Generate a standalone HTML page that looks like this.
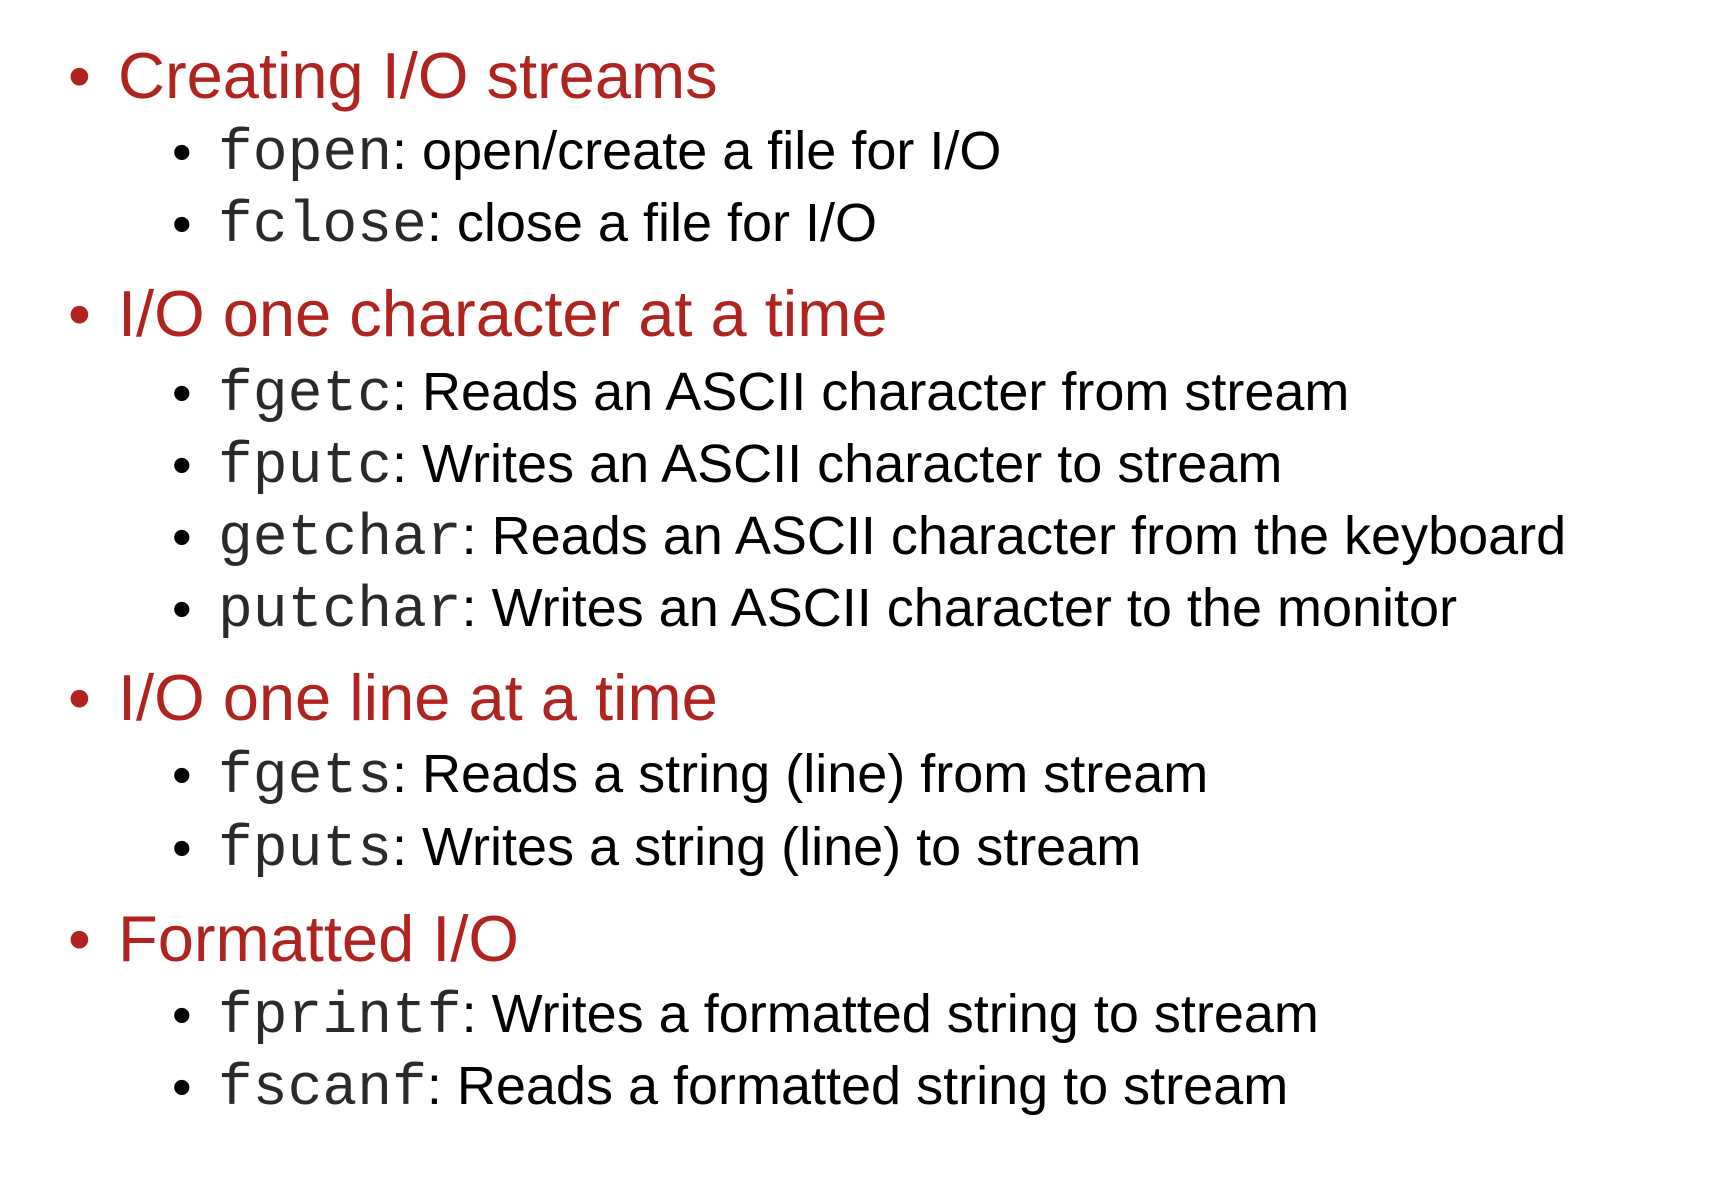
<!DOCTYPE html>
<html><head><meta charset="utf-8"><style>
html,body{margin:0;padding:0;background:#fff;width:1718px;height:1188px;overflow:hidden}
.l{position:absolute;line-height:1;white-space:nowrap;font-family:"Liberation Sans",sans-serif}
.h{font-size:65px;color:#b0231f}
.s{font-size:54px;color:#000}
.b{position:absolute}
.h .b{left:-50px}
.s .b{left:-46px;font-size:56px}
.m{font-family:"Liberation Mono",monospace;font-size:58px;color:#2a2a2a}
</style></head><body>
<div class="l h" style="left:118px;top:43px"><span class="b">•</span>Creating I/O streams</div>
<div class="l s" style="left:218px;top:124px"><span class="b">•</span><span class="m">fopen</span>: open/create a file for I/O</div>
<div class="l s" style="left:218px;top:196px"><span class="b">•</span><span class="m">fclose</span>: close a file for I/O</div>
<div class="l h" style="left:118px;top:281px"><span class="b">•</span>I/O one character at a time</div>
<div class="l s" style="left:218px;top:365px"><span class="b">•</span><span class="m">fgetc</span>: Reads an ASCII character from stream</div>
<div class="l s" style="left:218px;top:437px"><span class="b">•</span><span class="m">fputc</span>: Writes an ASCII character to stream</div>
<div class="l s" style="left:218px;top:509px"><span class="b">•</span><span class="m">getchar</span>: Reads an ASCII character from the keyboard</div>
<div class="l s" style="left:218px;top:581px"><span class="b">•</span><span class="m">putchar</span>: Writes an ASCII character to the monitor</div>
<div class="l h" style="left:118px;top:665px"><span class="b">•</span>I/O one line at a time</div>
<div class="l s" style="left:218px;top:747px"><span class="b">•</span><span class="m">fgets</span>: Reads a string (line) from stream</div>
<div class="l s" style="left:218px;top:820px"><span class="b">•</span><span class="m">fputs</span>: Writes a string (line) to stream</div>
<div class="l h" style="left:118px;top:906px"><span class="b">•</span>Formatted I/O</div>
<div class="l s" style="left:218px;top:987px"><span class="b">•</span><span class="m">fprintf</span>: Writes a formatted string to stream</div>
<div class="l s" style="left:218px;top:1059px"><span class="b">•</span><span class="m">fscanf</span>: Reads a formatted string to stream</div>
</body></html>
